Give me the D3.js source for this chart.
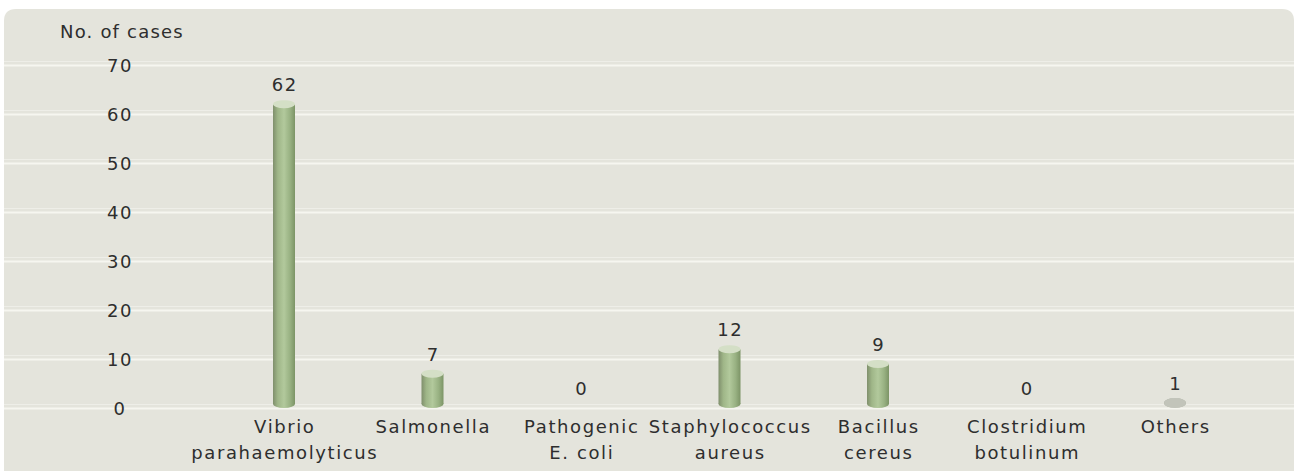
<!DOCTYPE html>
<html>
<head>
<meta charset="utf-8">
<script src="https://cdn.jsdelivr.net/npm/d3@7"></script>
<style>
  html, body { margin: 0; padding: 0; background: #ffffff; }
  svg { display: block; }
  text { font-family: "DejaVu Sans", Verdana, sans-serif; fill: #2e2e2e; }
</style>
</head>
<body>
<script>
// Food poisoning cases by causative agent
const categories = [
  "Vibrio parahaemolyticus",
  "Salmonella",
  "Pathogenic E. coli",
  "Staphylococcus aureus",
  "Bacillus cereus",
  "Clostridium botulinum",
  "Others"
];
const categoryLines = [
  ["Vibrio", "parahaemolyticus"],
  ["Salmonella"],
  ["Pathogenic", "E. coli"],
  ["Staphylococcus", "aureus"],
  ["Bacillus", "cereus"],
  ["Clostridium", "botulinum"],
  ["Others"]
];
const cases = [62, 7, 0, 12, 9, 0, 1];
const yTicks = [0, 10, 20, 30, 40, 50, 60, 70];
const yTitle = "No. of cases";

const W = 1294, H = 474;
const FS = 18, LS = 1.6;
const svg = d3.select("body").append("svg").attr("width", W).attr("height", H);

// Gradients for the cylinder bodies
const defs = svg.append("defs");
const body = defs.append("linearGradient").attr("id", "cyl").attr("x1", "0").attr("x2", "1").attr("y1", "0").attr("y2", "0");
[["0%", "#7f8f6c"], ["22%", "#9fb688"], ["50%", "#b2c99c"], ["78%", "#98b182"], ["100%", "#7c9466"]]
  .forEach(([o, c]) => body.append("stop").attr("offset", o).attr("stop-color", c));
const small = defs.append("linearGradient").attr("id", "cylGrey").attr("x1", "0").attr("x2", "1").attr("y1", "0").attr("y2", "0");
[["0%", "#a3a69b"], ["50%", "#c9cbc2"], ["100%", "#a2a598"]]
  .forEach(([o, c]) => small.append("stop").attr("offset", o).attr("stop-color", c));

// Panel background
svg.append("path")
  .attr("d", (() => {
    const x0 = 4, y0 = 9, x1 = W, y1 = 471, r = 12;
    return `M${x0},${y0 + r}Q${x0},${y0} ${x0 + r},${y0}H${x1 - r}Q${x1},${y0} ${x1},${y0 + r}V${y1}H${x0}Z`;
  })())
  .attr("fill", "#e4e4dc");

const x = d3.scalePoint().domain(categories).range([284, 1175]);
const y = d3.scaleLinear().domain([0, 70]).range([408, 65]);

// Gridlines
const grid = svg.append("g").attr("transform", "translate(4,0)")
  .call(d3.axisRight(y).tickValues(yTicks).tickSize(W - 4).tickFormat(""));
grid.select(".domain").remove();
grid.selectAll(".tick line").attr("stroke", "#f6f6f0").attr("stroke-width", 2.2);
grid.selectAll(".tick").append("line")
  .attr("x1", 0).attr("x2", W - 4).attr("y1", -4).attr("y2", -4)
  .attr("stroke", "#eeeee8").attr("stroke-width", 1.2);

// Y tick labels
svg.append("g").selectAll("text").data(yTicks).join("text")
  .attr("x", 120).attr("y", d => y(d) + 7)
  .attr("text-anchor", "middle")
  .attr("font-size", FS).attr("letter-spacing", LS)
  .text(d => d);

svg.append("text")
  .attr("x", 60).attr("y", 38)
  .attr("font-size", FS).attr("letter-spacing", 1.2)
  .text(yTitle);

// Cylinders
const bw = 22, ry = 4;
const bars = svg.append("g").selectAll("g").data(categories.map((c, i) => ({ c, v: cases[i] })))
  .join("g");

bars.filter(d => d.v > 0).each(function (d) {
  const g = d3.select(this);
  const cx = x(d.c);
  const top = y(d.v), base = y(0);
  const fill = d.v > 1 ? "url(#cyl)" : "url(#cylGrey)";
  const r = d.v > 1 ? ry : 5;
  g.append("ellipse").attr("cx", cx).attr("cy", base - r).attr("rx", bw / 2).attr("ry", r).attr("fill", fill);
  g.append("rect").attr("x", cx - bw / 2).attr("y", top).attr("width", bw).attr("height", Math.max(0, base - r - top)).attr("fill", fill);
  g.append("ellipse").attr("cx", cx).attr("cy", Math.min(top, base - r)).attr("rx", bw / 2).attr("ry", r)
    .attr("fill", d.v > 1 ? "#d4dfc6" : "#c2c4ba");
});

// Value labels
bars.append("text")
  .attr("x", d => x(d.c) + LS / 2).attr("y", d => y(d.v) - 13)
  .attr("text-anchor", "middle")
  .attr("font-size", FS).attr("letter-spacing", LS)
  .text(d => d.v);

// Category labels
svg.append("g").selectAll("text").data(categories).join("text")
  .attr("x", d => x(d)).attr("y", 433)
  .attr("text-anchor", "middle")
  .attr("font-size", FS).attr("letter-spacing", LS)
  .each(function (d, i) {
    d3.select(this).selectAll("tspan").data(categoryLines[i]).join("tspan")
      .attr("x", x(d) + LS / 2).attr("dy", (t, j) => j === 0 ? 0 : 26)
      .text(t => t);
  });
</script>
</body>
</html>
